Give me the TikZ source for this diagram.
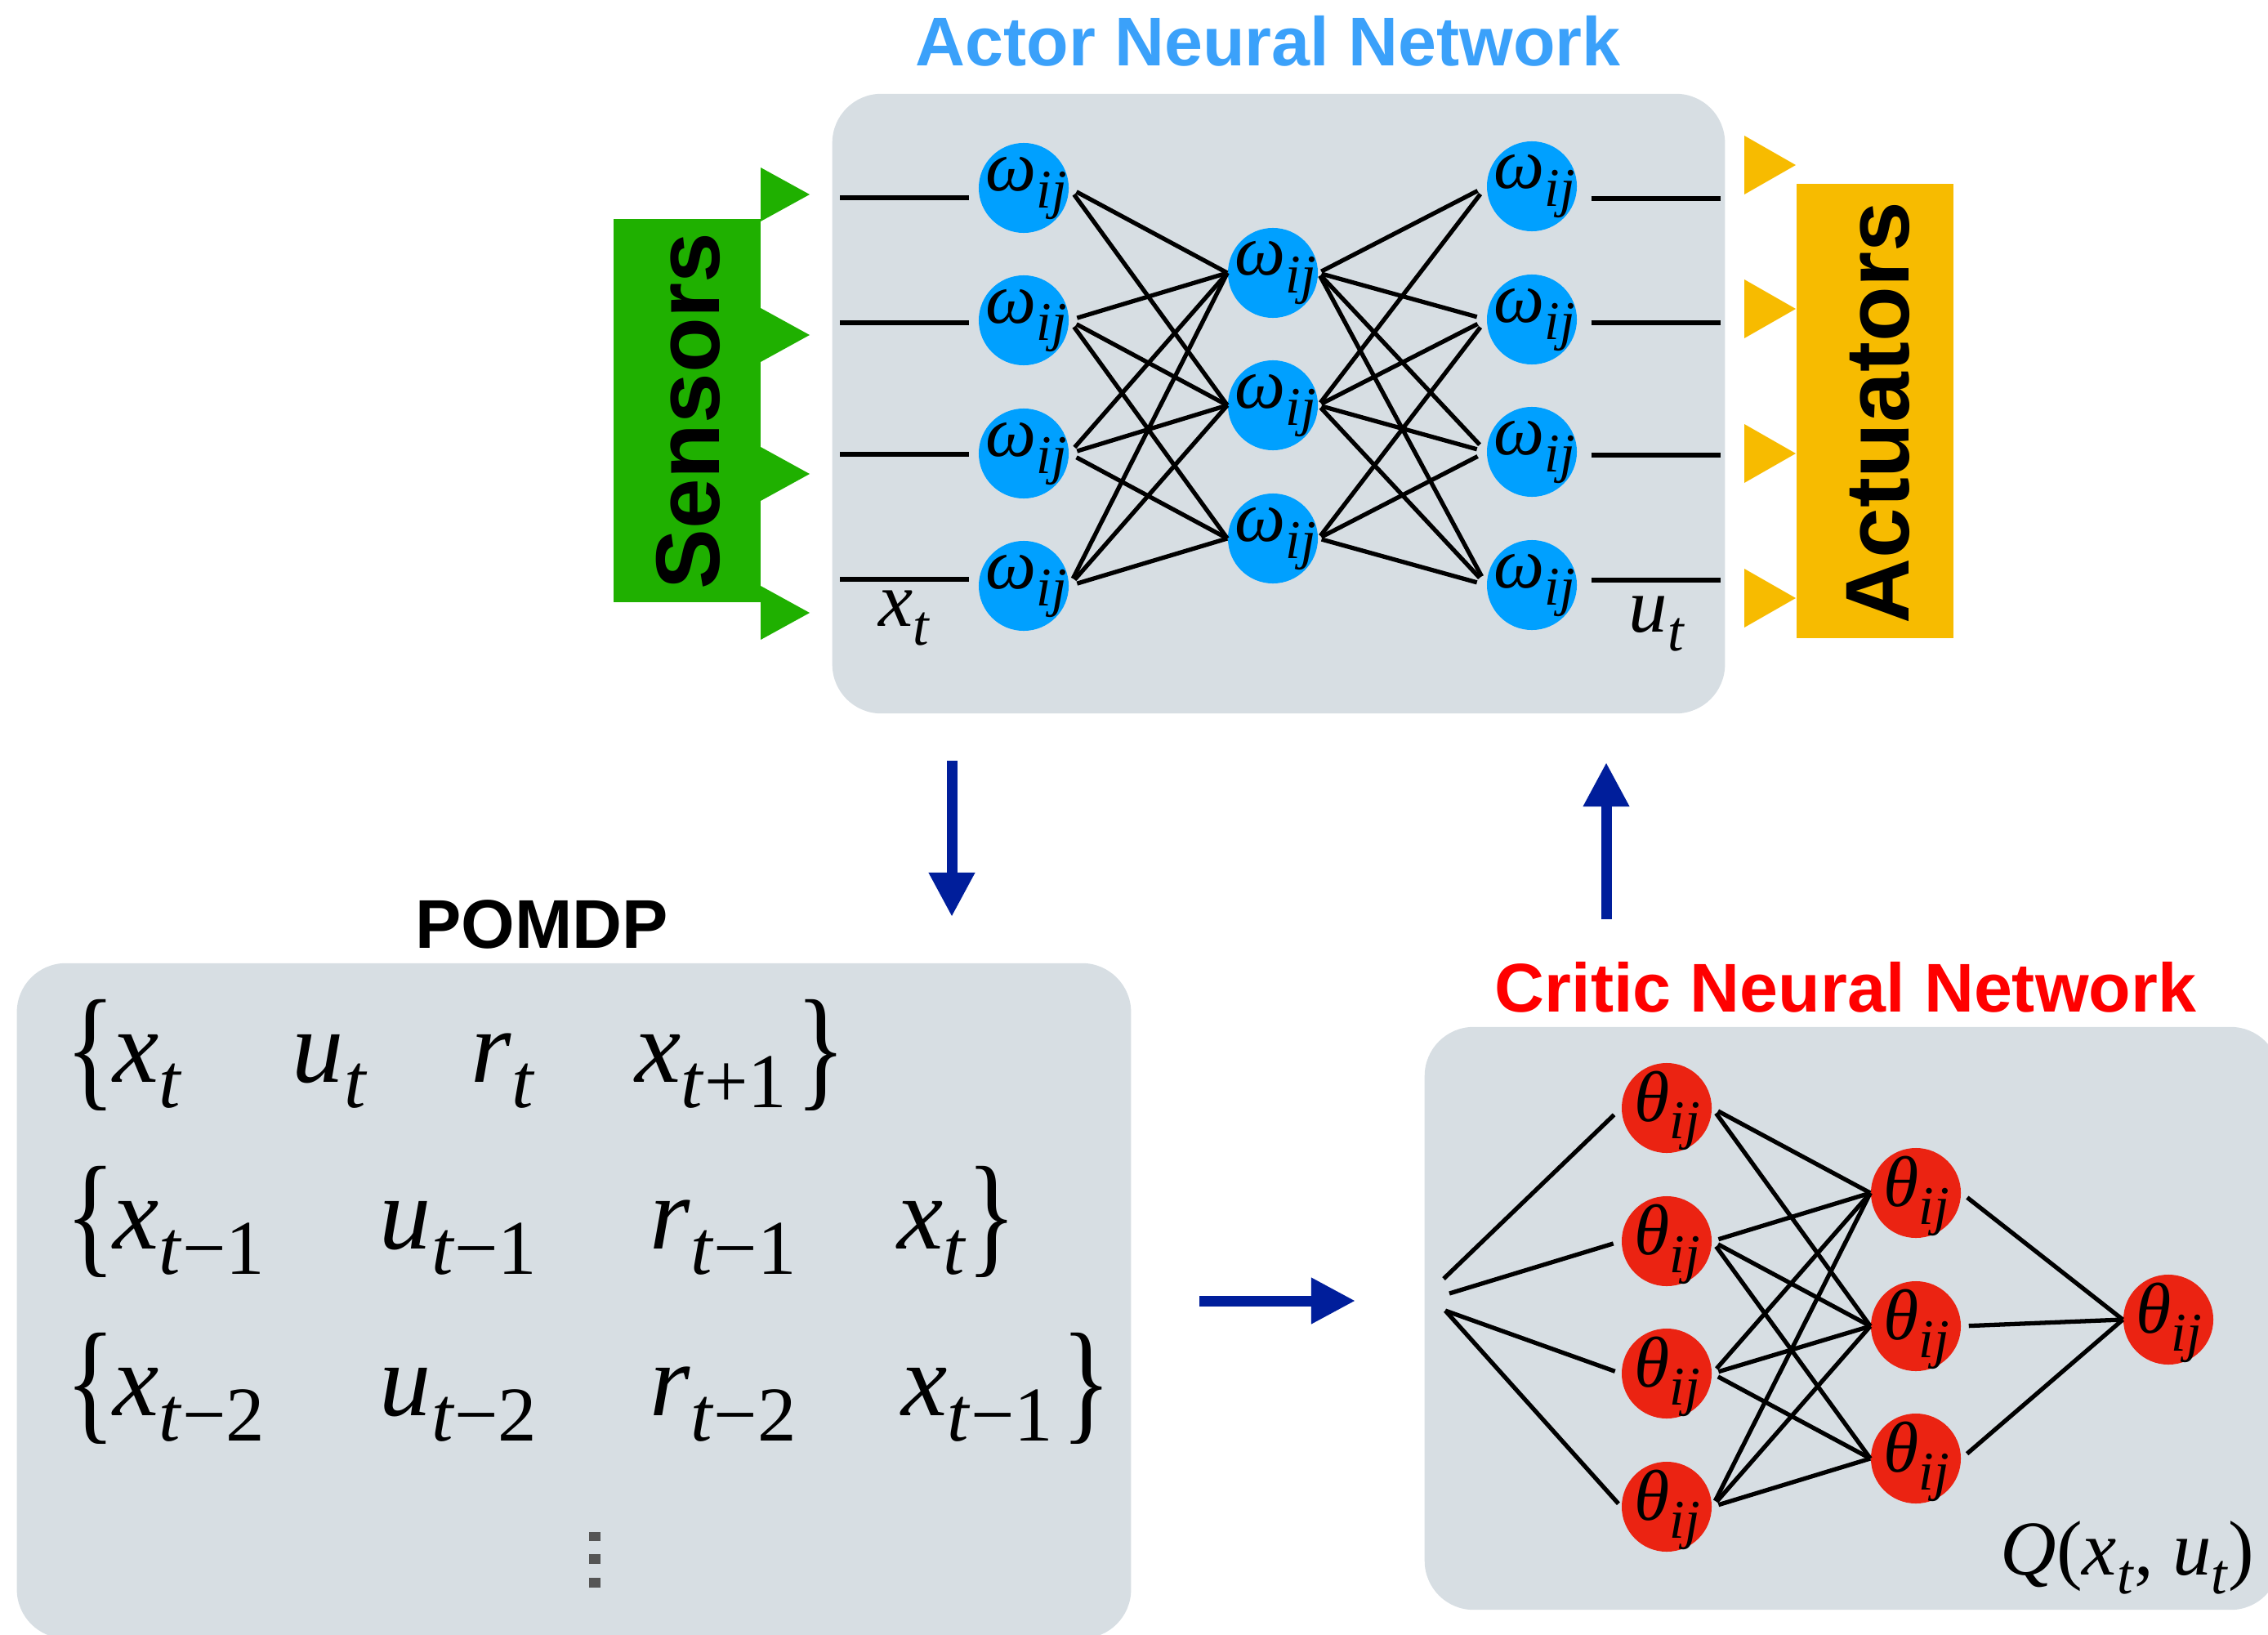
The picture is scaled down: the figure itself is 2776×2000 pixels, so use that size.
\documentclass[tikz,border=0pt]{standalone}
\usepackage{graphicx}
\usepackage{fontspec}
\setmainfont{Liberation Sans}
\newfontfamily\tms{Liberation Serif}
\usetikzlibrary{arrows.meta,calc}
\newcommand{\lowx}[2]{\raisebox{-0.25em}{\fontsize{#1}{#1}\selectfont #2}}
\newcommand{\tallbrace}[1]{\raisebox{-0.11em}{\scalebox{1}[1.3]{#1}}}
\definecolor{boxgray}{HTML}{D7DEE3}
\definecolor{nodeblue}{HTML}{00A0FF}
\definecolor{nodered}{HTML}{EB2312}
\definecolor{titleblue}{HTML}{3BA1FA}
\definecolor{titlered}{HTML}{FF0000}
\definecolor{arrowblue}{HTML}{001E9B}
\definecolor{sgreen}{HTML}{1FB000}
\definecolor{ayellow}{HTML}{F7BB00}
\definecolor{dotgray}{HTML}{555555}
\begin{document}
\begin{tikzpicture}[x=0.01cm,y=-0.01cm,
  panel/.style={fill=boxgray, rounded corners=0.6cm, inner sep=0pt, draw=none},
  neuA/.style={circle, fill=nodeblue, minimum size=1.1cm, inner sep=0pt},
  neuC/.style={circle, fill=nodered, minimum size=1.1cm, inner sep=0pt},
  wire/.style={line width=1.5pt, black},
  lblw/.style={anchor=base west, inner sep=0pt, font=\fontsize{25}{28}\selectfont\tms},
  lblt/.style={anchor=base west, inner sep=0pt, font=\fontsize{25}{28}\selectfont\tms},
  pm/.style={anchor=base west, inner sep=0pt, font=\fontsize{36}{40}\selectfont\tms},
  sym/.style={anchor=base west, inner sep=0pt, font=\fontsize{27}{30}\selectfont\tms},
  ttl/.style={inner sep=0pt, font=\fontsize{24}{28}\selectfont\bfseries},
  side/.style={rotate=90, inner sep=0pt, font=\fontsize{31.5}{34}\selectfont\bfseries},
  bigarrow/.style={line width=0.13cm, arrowblue, -{Triangle[length=0.54cm,width=0.53cm]}}
]
\useasboundingbox (0,0) rectangle (2776,2000);
\clip (0,0) rectangle (2776,2000);

% panels
\node[panel, minimum width=10.92cm, minimum height=7.58cm] (actor) at (1565,494) {};
\node[panel, minimum width=13.63cm, minimum height=8.26cm] (pomdp) at (702.5,1592) {};
\node[panel, minimum width=10.46cm, minimum height=7.13cm] (critic) at (2267,1613.5) {};

% titles
\node[ttl, text=titleblue] (tactor) at (1552,50) {Actor Neural Network};
\node[ttl, text=black] (tpomdp) at (663,1131) {POMDP};
\node[ttl, text=titlered] (tcritic) at (2259,1208) {Critic Neural Network};

% sensors
\fill[sgreen] (751,268) rectangle (931,737);
\foreach \y in {238,410,580,750} \fill[sgreen] (931,\y-33) -- (991,\y) -- (931,\y+33) -- cycle;
\node[side] (sens) at (842,503) {Sensors};

% actuators
\fill[ayellow] (2199,225) rectangle (2391,781);
\foreach \y in {202,378,555,732} \fill[ayellow] (2135,\y-36) -- (2198,\y) -- (2135,\y+36) -- cycle;
\node[side] (act) at (2299,505) {Actuators};

% actor neurons
\foreach \n/\x/\y in {a1/1253/230, a2/1253/392, a3/1253/555, a4/1253/717,
                      b1/1558/334, b2/1558/496, b3/1558/659,
                      d1/1875/228, d2/1875/391, d3/1875/553, d4/1875/716} {
  \node[neuA] (\n) at (\x,\y) {};
  \node[lblw] (l\n) at ($(\n)+(-47,3)$) {\textit{ω}\lowx{19}{\textit{ij}}};
}
\foreach \s/\t in {a1/b1,a1/b2,a2/b1,a2/b2,a2/b3,a3/b1,a3/b2,a3/b3,a4/b1,a4/b2,a4/b3}
  \draw[wire, shorten <=0.1cm] (\s.east) -- (\t.west);
\foreach \s/\t in {b1/d1,b1/d2,b1/d3,b1/d4,b2/d1,b2/d2,b2/d3,b2/d4,b3/d2,b3/d3,b3/d4}
  \draw[wire, shorten <=0.04cm, shorten >=0.12cm] (\s.east) -- (\t.west);

% actor inputs / outputs
\foreach \i/\y/\n in {1/242/a1, 2/395/a2, 3/556/a3, 4/709/a4} {
  \coordinate (in\i) at (1028,\y);
  \draw[wire, shorten >=0.11cm] (in\i) -- (in\i -| \n.west);
}
\foreach \i/\y/\n in {1/243/d1, 2/395/d2, 3/557/d3, 4/710/d4} {
  \coordinate (out\i) at (2106,\y);
  \draw[wire, shorten <=0.17cm] (out\i -| \n.east) -- (out\i);
}
\node[sym] (xt) at (1075,766) {\textit{x}\lowx{20}{\textit{t}}};
\node[sym] (ut) at (1993,773) {\textit{u}\lowx{20}{\textit{t}}};

% critic neurons
\foreach \n/\x/\y in {p1/2040/1356, p2/2040/1519, p3/2040/1681, p4/2040/1844,
                      q1/2345/1460, q2/2345/1623, q3/2345/1785,
                      s1/2654/1615} {
  \node[neuC] (\n) at (\x,\y) {};
  \node[lblt] (l\n) at ($(\n)+(-40,16)$) {\textit{θ}\lowx{19}{\textit{ij}}};
}
\coordinate (ci1) at (1767,1565);
\coordinate (ci2) at (1774,1583);
\coordinate (ci3) at (1769,1604);
\draw[wire, shorten >=0.12cm] (ci1) -- (p1.west);
\draw[wire, shorten >=0.1cm] (ci2) -- (p2.west);
\draw[wire, shorten >=0.08cm] (ci3) -- (p3.west);
\draw[wire, shorten >=0.05cm] (ci3) -- (p4.west);
\foreach \s/\t in {p1/q1,p1/q2,p2/q1,p2/q2,p2/q3,p3/q1,p3/q2,p3/q3,p4/q1,p4/q2,p4/q3}
  \draw[wire, shorten <=0.08cm] (\s.east) -- (\t.west);
\foreach \s in {q1,q2,q3}
  \draw[wire, shorten <=0.09cm] (\s.east) -- (s1.west);
\node[sym] (qlab) at (2448,1927) {\textit{Q}(\textit{x}\lowx{20}{\textit{t}}, \textit{u}\lowx{20}{\textit{t}})};

% POMDP memory
\node[pm] (r1a) at (80,1324) {\tallbrace{\{}};
\node[pm] (r1b) at (138,1324) {\textit{x}\lowx{27}{\textit{t}}};
\node[pm] (r1c) at (357,1324) {\textit{u}\lowx{27}{\textit{t}}};
\node[pm] (r1d) at (576,1324) {\textit{r}\lowx{27}{\textit{t}}};
\node[pm] (r1e) at (777,1324) {\textit{x}\lowx{27}{\textit{t}+1}};
\node[pm] (r1f) at (974,1324) {\tallbrace{\}}};
\node[pm] (r2a) at (80,1528) {\tallbrace{\{}};
\node[pm] (r2b) at (138,1528) {\textit{x}\lowx{27}{\textit{t}−1}};
\node[pm] (r2c) at (464,1528) {\textit{u}\lowx{27}{\textit{t}−1}};
\node[pm] (r2d) at (795,1528) {\textit{r}\lowx{27}{\textit{t}−1}};
\node[pm] (r2e) at (1098,1528) {\textit{x}\lowx{27}{\textit{t}}};
\node[pm] (r2f) at (1183,1528) {\tallbrace{\}}};
\node[pm] (r3a) at (80,1732) {\tallbrace{\{}};
\node[pm] (r3b) at (138,1732) {\textit{x}\lowx{27}{\textit{t}−2}};
\node[pm] (r3c) at (464,1732) {\textit{u}\lowx{27}{\textit{t}−2}};
\node[pm] (r3d) at (795,1732) {\textit{r}\lowx{27}{\textit{t}−2}};
\node[pm] (r3e) at (1103,1732) {\textit{x}\lowx{27}{\textit{t}−1}};
\node[pm] (r3f) at (1299,1732) {\tallbrace{\}}};
\fill[dotgray] (721,1875) rectangle (735,1886);
\fill[dotgray] (721,1902) rectangle (735,1914);
\fill[dotgray] (721,1931) rectangle (735,1943);

% flow arrows
\coordinate (dn1) at (1165,931);  \coordinate (dn2) at (1165,1122);
\coordinate (up1) at (1966,1125); \coordinate (up2) at (1966,933);
\coordinate (rt1) at (1468,1592); \coordinate (rt2) at (1659,1592);
\draw[bigarrow] (dn1) -- (dn2);
\draw[bigarrow] (up1) -- (up2);
\draw[bigarrow] (rt1) -- (rt2);
\end{tikzpicture}
\end{document}
